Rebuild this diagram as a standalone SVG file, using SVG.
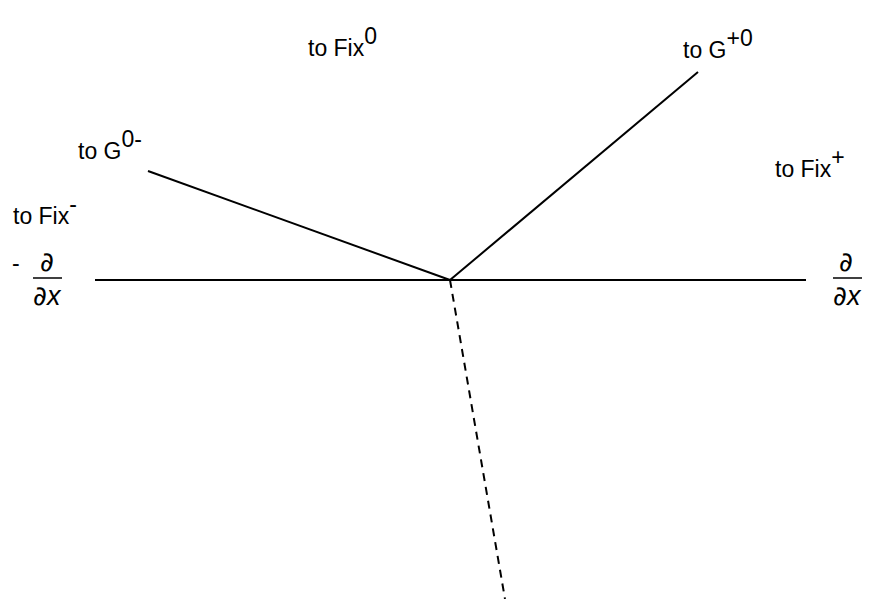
<svg xmlns="http://www.w3.org/2000/svg" width="870" height="599" viewBox="0 0 870 599">
<style>
text{font-family:"Liberation Sans",Arial,sans-serif;font-size:23px;fill:#000}
.d{font-size:27px}
.p{font-family:"Noto Sans","DejaVu Sans",sans-serif}
.ln{stroke:#000;stroke-width:2;fill:none}
.dash{stroke:#000;stroke-width:2;fill:none;stroke-dasharray:8,6}
.bar{stroke:#000;stroke-width:1.5}
</style>
<rect width="870" height="599" fill="#fff"/>
<g id="connectors">
<line class="ln" x1="95" y1="280" x2="806" y2="280"/>
<line class="ln" x1="450" y1="280" x2="698" y2="72"/>
<line class="ln" x1="148" y1="171" x2="450" y2="280"/>
<line class="dash" x1="450" y1="280" x2="505" y2="599"/>
</g>
<g id="fix0"><text x="308" y="56">to Fix<tspan dy="-12">0</tspan></text></g>
<g id="gplus0"><text x="683" y="58">to G<tspan dy="-12">+0</tspan></text></g>
<g id="g0minus"><text x="78" y="159">to G<tspan dy="-12">0-</tspan></text></g>
<g id="fixminus"><text x="13" y="224">to Fix<tspan dy="-12">-</tspan></text></g>
<g id="fixplus"><text x="775" y="177">to Fix<tspan dy="-12">+</tspan></text></g>
<g id="dminus">
<text x="12" y="271">-</text>
<text class="d p" x="40" y="271">∂</text>
<line class="bar" x1="33" y1="278" x2="62" y2="278"/>
<text class="d" x="33" y="305"><tspan class="p">∂</tspan><tspan font-style="italic">x</tspan></text>
</g>
<g id="dplus">
<text class="d p" x="839" y="271">∂</text>
<line class="bar" x1="833" y1="278" x2="862" y2="278"/>
<text class="d" x="833" y="305"><tspan class="p">∂</tspan><tspan font-style="italic">x</tspan></text>
</g>
</svg>
